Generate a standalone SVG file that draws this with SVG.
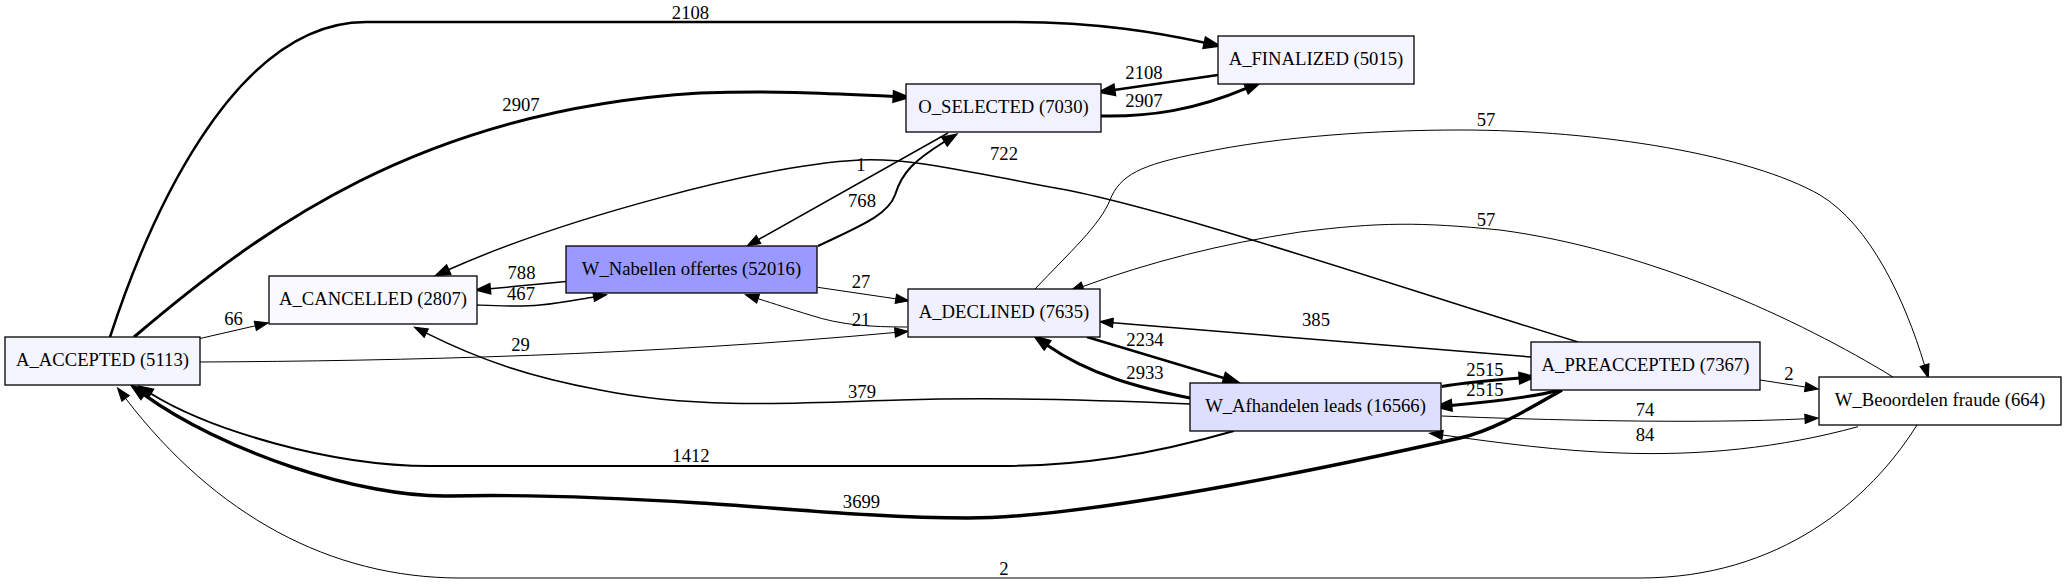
<svg xmlns="http://www.w3.org/2000/svg" width="2067" height="584" viewBox="0 0 2067 584">
<defs>
<style>
.n rect{stroke:#000;stroke-width:1.3}
text{font-family:"Liberation Serif","Times New Roman",serif;font-size:18.67px;fill:#000;text-anchor:middle}
.e path{fill:none;stroke:#000}
.w1{stroke-width:1}
.w15{stroke-width:1.5}
.w2{stroke-width:2}
.w25{stroke-width:2.5}
.w3{stroke-width:3}
.w35{stroke-width:3.4}
</style>
<marker id="a1" markerUnits="userSpaceOnUse" orient="auto" overflow="visible" refX="0" refY="0" markerWidth="14" markerHeight="10"><path d="M0,-4.7 L13.3,0 L0,4.7 Z" fill="#000" stroke="#000" stroke-width="1"/></marker>
<marker id="a2" markerUnits="userSpaceOnUse" orient="auto" overflow="visible" refX="0" refY="0" markerWidth="14" markerHeight="10"><path d="M0,-4.7 L13.3,0 L0,4.7 Z" fill="#000" stroke="#000" stroke-width="2"/></marker>
<marker id="a3" markerUnits="userSpaceOnUse" orient="auto" overflow="visible" refX="0" refY="0" markerWidth="14" markerHeight="10"><path d="M0,-4.7 L13.3,0 L0,4.7 Z" fill="#000" stroke="#000" stroke-width="3"/></marker>
</defs>
<rect x="0" y="0" width="2067" height="584" fill="#fff"/>
<g id="edges" class="e">
<path class="w25" marker-end="url(#a3)" d="M110,337 C145,230 230,22 366,22 L1010,22 C1100,22 1160,33 1205,42.8"/>
<path class="w3" marker-end="url(#a3)" d="M134,337 C260,230 420,110 700,93 C780,90 840,94 894,96.6"/>
<path class="w25" marker-end="url(#a3)" d="M1218,75 L1114,90"/>
<path class="w3" marker-end="url(#a3)" d="M1101,116 C1150,117 1195,110 1246.7,88.1"/>
<path class="w2" marker-end="url(#a2)" d="M818,246 C860,226 888,215 895,195 C902,172 915,160 944.8,141.5"/>
<path class="w15" marker-end="url(#a1)" d="M948,133 L758.6,239.5"/>
<path class="w15" marker-end="url(#a2)" d="M1578,342 C1400,288 1160,205 1050,187 C960,170 910,158 860,160 C760,165 560,220 448.4,269.8"/>
<path class="w1" marker-end="url(#a1)" d="M200,338.5 L255.3,325.8"/>
<path class="w1" marker-end="url(#a1)" d="M200,362 C400,361 650,355 895,332.5"/>
<path class="w2" marker-end="url(#a2)" d="M1234,431 C1150,455 1080,466 1000,466 L430,466 C330,466 210,430 150.6,393.5"/>
<path class="w35" marker-end="url(#a3)" d="M1562,390 C1530,408 1495,430 1460,438 C1380,456 1100,518 968,518 C880,518 780,508 700,503 C620,498 540,494 450,496 C360,498 220,450 143.7,394.4"/>
<path class="w1" marker-end="url(#a1)" d="M1917,425 C1870,500 1780,578 1640,578 L460,578 C330,578 215,515 125.6,398.4"/>
<path class="w15" marker-end="url(#a1)" d="M477,305 C500,306 520,307 540,305 C560,303 575,300 593.6,296.9"/>
<path class="w15" marker-end="url(#a2)" d="M566,281.5 L490,288.8"/>
<path class="w15" marker-end="url(#a1)" d="M1190,404 C1100,400 1000,397 900,400 C800,403 700,410 600,390 C530,377 480,360 426.3,333.2"/>
<path class="w1" marker-end="url(#a1)" d="M817.6,287.3 L895.8,298.8"/>
<path class="w1" marker-end="url(#a1)" d="M907,327 C870,327 840,325 810,315 C790,309 775,304 758.1,298.7"/>
<path class="w25" marker-end="url(#a3)" d="M1087,337 L1224.5,378.3"/>
<path class="w1" marker-end="url(#a1)" d="M1035,289 C1070,252 1100,225 1110,200 C1120,175 1140,165 1200,153 C1280,136 1380,130 1460,130 C1600,130 1750,155 1820,195 C1870,225 1905,300 1924.5,365.1"/>
<path class="w3" marker-end="url(#a3)" d="M1190,398 C1140,388 1090,375 1046.9,344.9"/>
<path class="w15" marker-end="url(#a1)" d="M1531,357 L1113,322.8"/>
<path class="w1" marker-end="url(#a1)" d="M1893,377 C1800,320 1650,250 1500,230 C1420,222 1380,222 1300,232 C1220,244 1150,262 1082.8,286.5"/>
<path class="w3" marker-end="url(#a3)" d="M1441.7,386.5 C1470,382 1495,380 1520,378.1"/>
<path class="w1" marker-end="url(#a1)" d="M1441.7,416 C1540,420 1700,424 1805,418.8"/>
<path class="w3" marker-end="url(#a3)" d="M1560,390 C1530,398 1490,402 1450.9,405.4"/>
<path class="w1" marker-end="url(#a1)" d="M1858,426.7 C1780,448 1700,456 1620,453 C1560,451 1500,443 1442.6,435"/>
<path class="w1" marker-end="url(#a1)" d="M1760,380 L1805.2,387"/>
<text x="690.5" y="19">2108</text>
<text x="521" y="111">2907</text>
<text x="1144" y="79">2108</text>
<text x="1144" y="107">2907</text>
<text x="862" y="207">768</text>
<text x="861" y="171">1</text>
<text x="1004" y="160">722</text>
<text x="233.5" y="325">66</text>
<text x="520.5" y="351">29</text>
<text x="691" y="462">1412</text>
<text x="861.5" y="508">3699</text>
<text x="1004" y="575">2</text>
<text x="521" y="300">467</text>
<text x="521.5" y="279">788</text>
<text x="862" y="398">379</text>
<text x="861" y="288">27</text>
<text x="861" y="326">21</text>
<text x="1145" y="346">2234</text>
<text x="1486" y="126">57</text>
<text x="1145" y="379">2933</text>
<text x="1316" y="326">385</text>
<text x="1486" y="226">57</text>
<text x="1485" y="376">2515</text>
<text x="1645" y="416">74</text>
<text x="1485" y="396">2515</text>
<text x="1645" y="441">84</text>
<text x="1789" y="380">2</text>
</g>
<g id="A_ACCEPTED" class="n"><rect x="5" y="337" width="195" height="48" fill="#f5f5ff"/><text x="102.5" y="366">A_ACCEPTED (5113)</text></g>
<g id="A_CANCELLED" class="n"><rect x="269" y="276" width="208" height="48" fill="#f9f9ff"/><text x="373" y="305">A_CANCELLED (2807)</text></g>
<g id="W_Nabellen" class="n"><rect x="566" y="246" width="251" height="47" fill="#9999ff"/><text x="691.5" y="274.5">W_Nabellen offertes (52016)</text></g>
<g id="O_SELECTED" class="n"><rect x="906" y="84" width="195" height="48" fill="#f1f1ff"/><text x="1003.5" y="113">O_SELECTED (7030)</text></g>
<g id="A_FINALIZED" class="n"><rect x="1218" y="36" width="196" height="48" fill="#f5f5ff"/><text x="1316" y="65">A_FINALIZED (5015)</text></g>
<g id="A_DECLINED" class="n"><rect x="908" y="289" width="192" height="48" fill="#f0f0ff"/><text x="1004" y="318">A_DECLINED (7635)</text></g>
<g id="W_Afhandelen" class="n"><rect x="1190" y="383" width="251" height="48" fill="#dedeff"/><text x="1315.5" y="412">W_Afhandelen leads (16566)</text></g>
<g id="A_PREACCEPTED" class="n"><rect x="1531" y="342" width="229" height="48" fill="#f1f1ff"/><text x="1645.5" y="371">A_PREACCEPTED (7367)</text></g>
<g id="W_Beoordelen" class="n"><rect x="1819" y="377" width="242" height="48" fill="#fefeff"/><text x="1940" y="406">W_Beoordelen fraude (664)</text></g>
</svg>
